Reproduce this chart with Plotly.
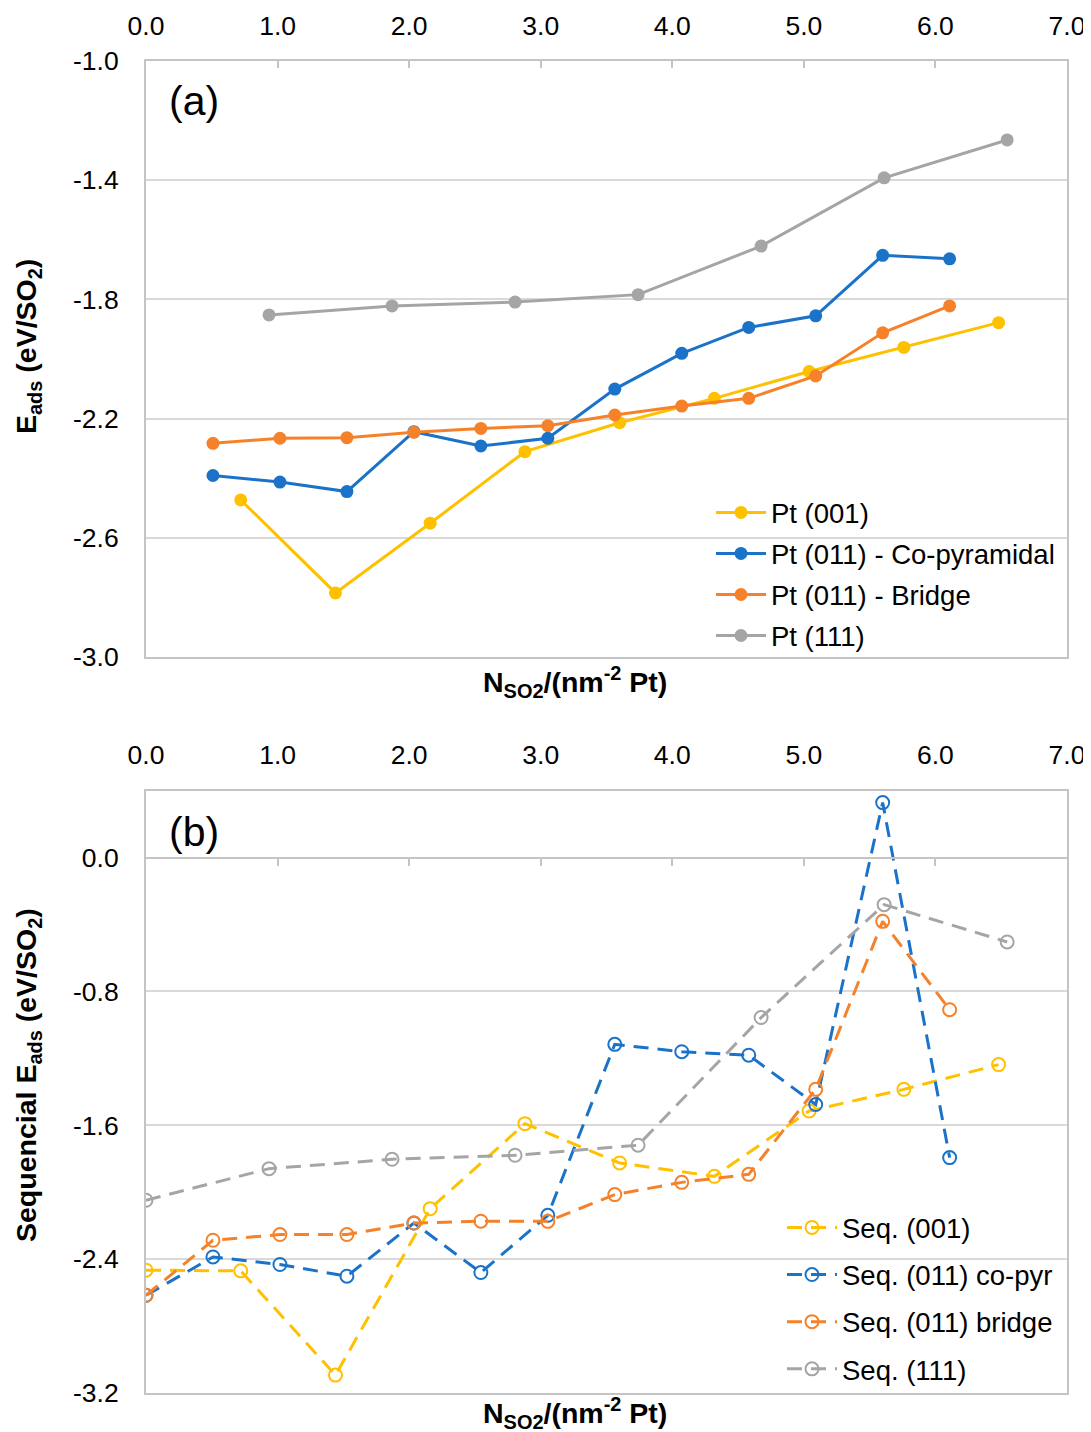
import plotly.graph_objects as go

# page is rendered with an 8px body margin; figure sized to fit the window
OFF = 8
W, H = 1083, 1424

# ---------------- data ----------------
# (a) adsorption energy per SO2
x_001 = [0.72, 1.44, 2.16, 2.88, 3.60, 4.32, 5.04, 5.76, 6.48]
e_001 = [-2.473, -2.785, -2.551, -2.311, -2.214, -2.132, -2.042, -1.961, -1.878]

x_011 = [0.509, 1.018, 1.527, 2.036, 2.545, 3.054, 3.563, 4.072, 4.581, 5.090, 5.599, 6.108]
e_011_copyr = [-2.391, -2.413, -2.445, -2.244, -2.292, -2.266, -2.101, -1.981, -1.894, -1.855, -1.652, -1.664]
e_011_bridge = [-2.283, -2.266, -2.264, -2.246, -2.233, -2.224, -2.188, -2.158, -2.132, -2.057, -1.912, -1.822]

x_111 = [0.935, 1.870, 2.805, 3.740, 4.675, 5.610, 6.545]
e_111 = [-1.852, -1.822, -1.809, -1.784, -1.621, -1.392, -1.265]

# (b) sequential adsorption energy
xs_001 = [0.0, 0.72, 1.44, 2.16, 2.88, 3.60, 4.32, 5.04, 5.76, 6.48]
s_001 = [-2.466, -2.470, -3.093, -2.098, -1.590, -1.825, -1.905, -1.514, -1.385, -1.237]

xs_011 = [0.0, 0.509, 1.018, 1.527, 2.036, 2.545, 3.054, 3.563, 4.072, 4.581, 5.090, 5.599, 6.108]
s_011_copyr = [-2.616, -2.387, -2.432, -2.502, -2.184, -2.480, -2.138, -1.116, -1.160, -1.181, -1.476, 0.329, -1.793]
s_011_bridge = [-2.616, -2.287, -2.253, -2.253, -2.184, -2.173, -2.174, -2.014, -1.941, -1.893, -1.385, -0.381, -0.909]

xs_111 = [0.0, 0.935, 1.870, 2.805, 3.740, 4.675, 5.610, 6.545]
s_111 = [-2.048, -1.859, -1.803, -1.779, -1.719, -0.956, -0.281, -0.504]

names_a = ["Pt (001)", "Pt (011) - Co-pyramidal", "Pt (011) - Bridge", "Pt (111)"]
names_b = ["Seq. (001)", "Seq. (011) co-pyr", "Seq. (011) bridge", "Seq. (111)"]

x_ticks = [0, 1, 2, 3, 4, 5, 6, 7]
x_ticktext = ["0.0", "1.0", "2.0", "3.0", "4.0", "5.0", "6.0", "7.0"]
ya_ticks = [-1.0, -1.4, -1.8, -2.2, -2.6, -3.0]
ya_ticktext = ["-1.0", "-1.4", "-1.8", "-2.2", "-2.6", "-3.0"]
yb_ticks = [0.0, -0.8, -1.6, -2.4, -3.2]
yb_ticktext = ["0.0", "-0.8", "-1.6", "-2.4", "-3.2"]

colors = ["#FFC000", "#1A73C8", "#F5822A", "#A5A5A5"]

# ---------------- layout helpers (window pixel -> paper) ----------------
def px(x):
    return (x - OFF) / W

def py(y):
    return 1 - (y - OFF) / H

XDOM = [px(146), px(1067)]
YDOM_A = [py(657), py(61)]
YDOM_B = [py(1393), py(790.7)]
YB_RANGE = [-3.2, 0.4]
zero_pos = YDOM_B[0] + (0 - YB_RANGE[0]) / (YB_RANGE[1] - YB_RANGE[0]) * (YDOM_B[1] - YDOM_B[0])

FONT = "Liberation Sans, Arial, sans-serif"
AXLINE = "#C4C4C4"
GRID = "#D9D9D9"

fig = go.Figure()

series_a = [(x_001, e_001), (x_011, e_011_copyr), (x_011, e_011_bridge), (x_111, e_111)]
for i, (xx, yy) in enumerate(series_a):
    fig.add_trace(go.Scatter(
        x=xx, y=yy, name=names_a[i], mode="lines+markers",
        line=dict(color=colors[i], width=3),
        marker=dict(color=colors[i], size=13, symbol="circle"),
        xaxis="x", yaxis="y", legend="legend", legendgroup="a%d" % i,
    ))

series_b = [(xs_001, s_001), (xs_011, s_011_copyr), (xs_011, s_011_bridge), (xs_111, s_111)]
for i, (xx, yy) in enumerate(series_b):
    fig.add_trace(go.Scatter(
        x=xx, y=yy, name=names_b[i], mode="lines+markers",
        line=dict(color=colors[i], width=3, dash="15px,9px"),
        marker=dict(color=colors[i], size=13, symbol="circle-open", line=dict(width=2, color=colors[i])),
        xaxis="x2", yaxis="y2", legend="legend2", legendgroup="b%d" % i,
    ))

# invisible trace so the zero-line tick axis exists
fig.add_trace(go.Scatter(x=[None], y=[None], xaxis="x3", yaxis="y2", showlegend=False, hoverinfo="skip"))

tickfont = dict(family=FONT, size=26.5, color="#000000")

fig.update_layout(
    width=W, height=H,
    margin=dict(l=0, r=0, t=0, b=0, autoexpand=False),
    paper_bgcolor="white", plot_bgcolor="white",
    showlegend=True,
    xaxis=dict(
        domain=XDOM, anchor="y", side="top", range=[0, 7], automargin=False,
        tickvals=x_ticks, ticktext=x_ticktext, tickfont=tickfont,
        ticks="inside", ticklen=7, tickwidth=1.5, tickcolor=AXLINE,
        showline=True, linecolor=AXLINE, linewidth=2, mirror=True,
        showgrid=False, zeroline=False, ticklabelstandoff=13,
    ),
    yaxis=dict(
        domain=YDOM_A, anchor="x", range=[-3.0, -1.0], automargin=False,
        tickvals=ya_ticks, ticktext=ya_ticktext, tickfont=tickfont,
        ticks="", showline=True, linecolor=AXLINE, linewidth=2, mirror=True,
        showgrid=True, gridcolor=GRID, gridwidth=1.5, zeroline=False,
        ticklabelstandoff=20,
    ),
    xaxis2=dict(
        domain=XDOM, anchor="y2", side="top", range=[0, 7], automargin=False,
        tickvals=x_ticks, ticktext=x_ticktext, tickfont=tickfont,
        ticks="", showline=True, linecolor=AXLINE, linewidth=2, mirror=True,
        showgrid=False, zeroline=False, ticklabelstandoff=14,
    ),
    xaxis3=dict(
        domain=XDOM, anchor="free", overlaying="x2", position=zero_pos, side="top",
        range=[0, 7], tickvals=x_ticks, showticklabels=False, automargin=False,
        ticks="inside", ticklen=7, tickwidth=1.5, tickcolor=AXLINE,
        showline=True, linecolor=AXLINE, linewidth=2, showgrid=False, zeroline=False,
    ),
    yaxis2=dict(
        domain=YDOM_B, anchor="x2", range=YB_RANGE, automargin=False,
        tickvals=yb_ticks, ticktext=yb_ticktext, tickfont=tickfont,
        ticks="", showline=True, linecolor=AXLINE, linewidth=2, mirror=True,
        showgrid=True, gridcolor=GRID, gridwidth=1.5, zeroline=False,
        ticklabelstandoff=20,
    ),
    legend=dict(
        x=px(711), y=py(488), xanchor="left", yanchor="top",
        bgcolor="rgba(0,0,0,0)", font=dict(family=FONT, size=27.5, color="#000000"),
        traceorder="grouped", tracegroupgap=2.3, itemwidth=50,
    ),
    legend2=dict(
        x=px(782), y=py(1203), xanchor="left", yanchor="top",
        bgcolor="rgba(0,0,0,0)", font=dict(family=FONT, size=27.5, color="#000000"),
        traceorder="grouped", tracegroupgap=8.4, itemwidth=50,
    ),
)

title_font = dict(family=FONT, size=28.5, color="#000000")
label_font = dict(family=FONT, size=41, color="#000000")
annotations = [
    dict(text="(a)", x=px(194), y=py(101), xref="paper", yref="paper", showarrow=False,
         font=label_font, xanchor="center", yanchor="middle"),
    dict(text="(b)", x=px(194), y=py(832), xref="paper", yref="paper", showarrow=False,
         font=label_font, xanchor="center", yanchor="middle"),
    dict(text="<b>N<sub>SO2</sub>/(nm<sup>-2</sup> Pt)</b>", x=px(575), y=py(682), xref="paper", yref="paper",
         showarrow=False, font=title_font, xanchor="center", yanchor="middle"),
    dict(text="<b>N<sub>SO2</sub>/(nm<sup>-2</sup> Pt)</b>", x=px(575), y=py(1413), xref="paper", yref="paper",
         showarrow=False, font=title_font, xanchor="center", yanchor="middle"),
    dict(text="<b>E<sub>ads</sub> (eV/SO<sub>2</sub>)</b>", x=px(28), y=py(347), xref="paper", yref="paper",
         showarrow=False, font=title_font, textangle=-90, xanchor="center", yanchor="middle"),
    dict(text="<b>Sequencial E<sub>ads</sub> (eV/SO<sub>2</sub>)</b>", x=px(28), y=py(1075), xref="paper", yref="paper",
         showarrow=False, font=title_font, textangle=-90, xanchor="center", yanchor="middle"),
]
fig.update_layout(annotations=annotations)

fig.write_html("out.html")
